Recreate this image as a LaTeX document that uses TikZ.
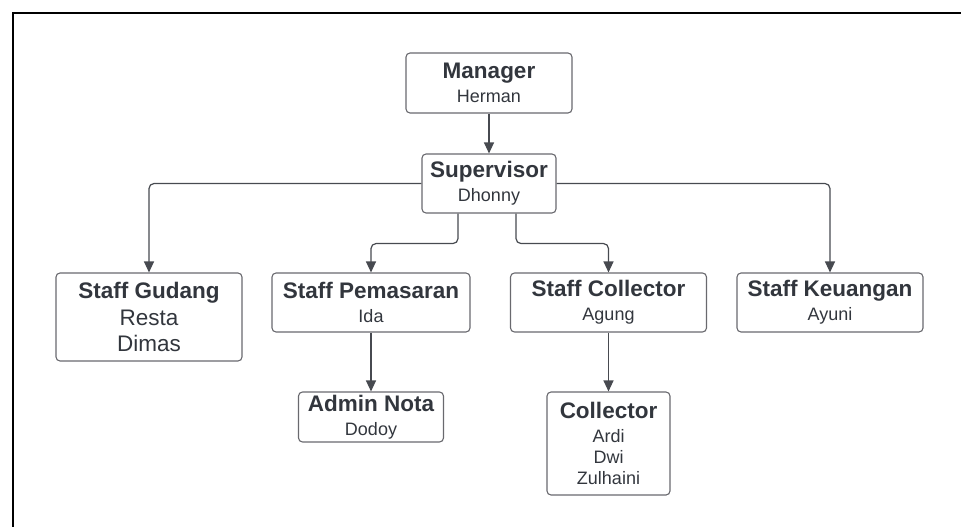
\documentclass[tikz,border=0pt]{standalone}
\usepackage{fontspec}
\setmainfont{Liberation Sans}
\usetikzlibrary{arrows.meta}
\definecolor{ink}{RGB}{50,54,61}
\definecolor{edge}{RGB}{105,105,110}
\tikzset{
  box/.style={draw=edge,line width=1.1pt,rounded corners=4pt,align=center,
    text=ink,font=\fontsize{18}{24}\selectfont,inner sep=0pt},
  link/.style={draw=ink!90,line width=1.2pt,rounded corners=5pt,
    -{Triangle[width=10pt,length=11pt]}},
}
\newcommand{\hd}[1]{{\fontsize{22.5}{24}\selectfont\bfseries #1}}
\newcommand{\bnm}[1]{{\fontsize{22.5}{24}\selectfont #1}}
\begin{document}
\begin{tikzpicture}[x=1pt,y=-1pt]
  \useasboundingbox (0,0) rectangle (961,527);
  \draw[line width=2.5pt] (13,527) -- (13,13) -- (961,13);
  % boxes
  \node[box,minimum width=166,minimum height=60] (mgr) at (489,83)
    {\hd{Manager}\\Herman};
  \node[box,minimum width=134,minimum height=59] (sup) at (489,183.5)
    {\hd{Supervisor}\\Dhonny};
  \node[box,minimum width=186,minimum height=88] (gud) at (149,317)
    {\hd{Staff Gudang}\\[2.5pt]\bnm{Resta}\\[2.5pt]\bnm{Dimas}};
  \node[box,minimum width=198,minimum height=59] (pem) at (371,302.5)
    {\hd{Staff Pemasaran}\\Ida};
  \node[box,minimum width=196,minimum height=59] (col) at (608.5,302.5)
    {\hd{Staff Collector}\\Agung};
  \node[box,minimum width=186,minimum height=59] (keu) at (830,302.5)
    {\hd{Staff Keuangan}\\Ayuni};
  \node[box,minimum width=145,minimum height=50] (adm) at (371,417)
    {\hd{Admin Nota}\\Dodoy};
  \node[box,minimum width=123,minimum height=103] (clt) at (608.5,443.5)
    {\hd{Collector}\\Ardi\\[-3pt]Dwi\\[-3pt]Zulhaini};
  % links
  \draw[link] (mgr) -- (sup);
  \draw[link] (sup.west) -| (gud.north);
  \draw[link] (sup.east) -| (keu.north);
  \draw[link] ([xshift=-31pt]sup.south) -- ++(0,30) -| (pem.north);
  \draw[link] ([xshift=27pt]sup.south) -- ++(0,30) -| (col.north);
  \draw[link] (pem) -- (adm);
  \draw[link] (col) -- (clt);
\end{tikzpicture}
\end{document}
